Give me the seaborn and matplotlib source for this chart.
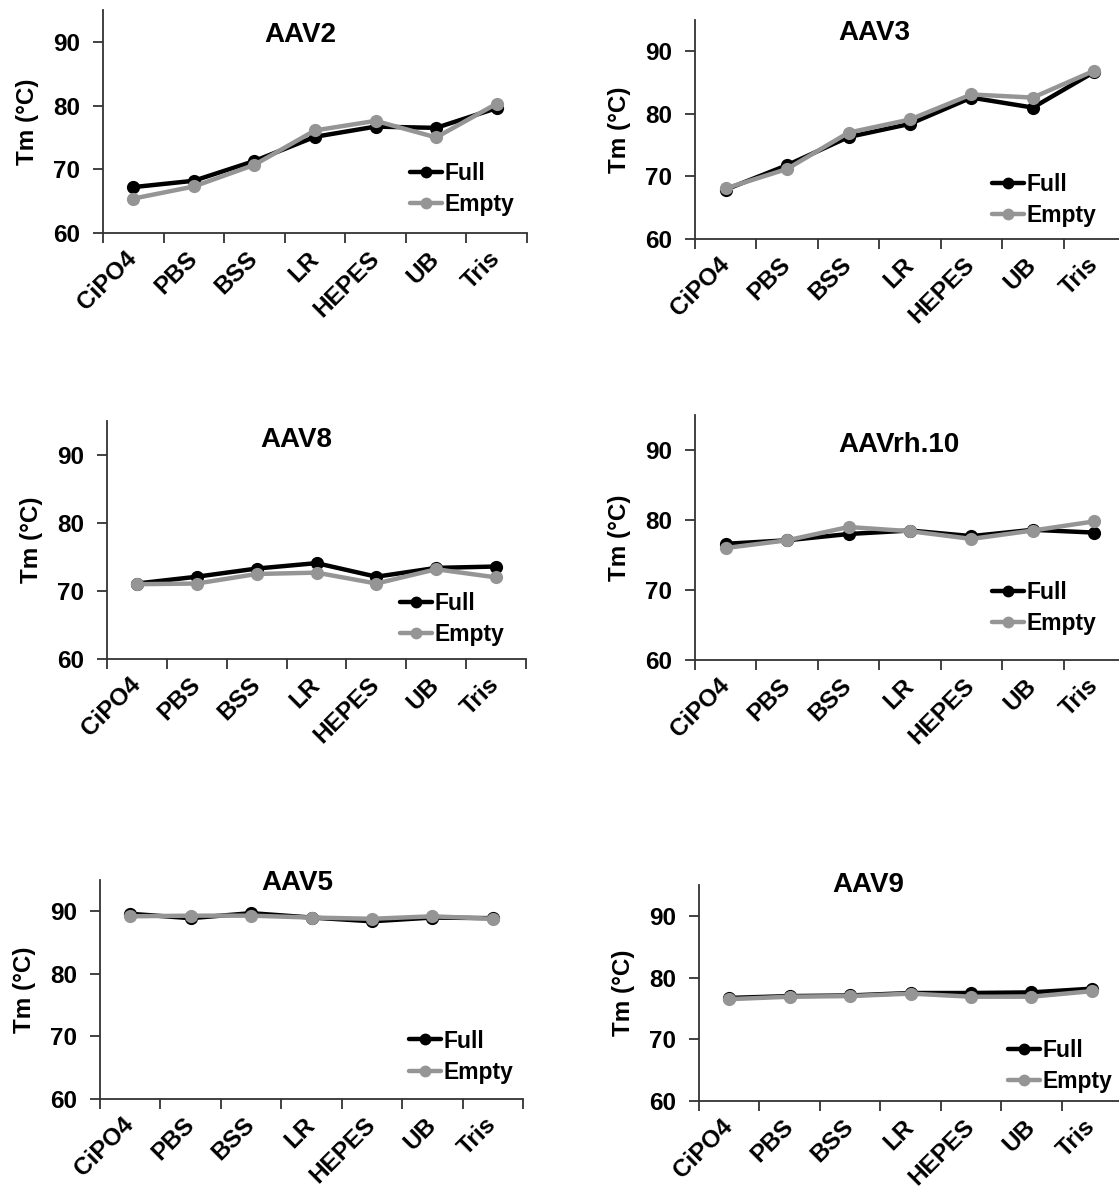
import matplotlib
matplotlib.use("Agg")
import matplotlib.pyplot as plt
import seaborn as sns
import pandas as pd
from matplotlib.ticker import FixedLocator

sns.set_style("ticks")
plt.rcParams['font.family'] = ['Liberation Sans', 'DejaVu Sans']
plt.rcParams['font.weight'] = 'bold'
plt.rcParams['text.color'] = 'black'
plt.rcParams['axes.labelcolor'] = 'black'
plt.rcParams['xtick.color'] = 'black'
plt.rcParams['ytick.color'] = 'black'

buffers = ["CiPO4", "PBS", "BSS", "LR", "HEPES", "UB", "Tris"]
series_names = ["Full", "Empty"]

aav2_full = [67.2, 68.2, 71.3, 75.1, 76.7, 76.5, 79.6]
aav2_empty = [65.4, 67.3, 70.7, 76.1, 77.6, 75.0, 80.3]
aav3_full = [67.9, 71.8, 76.3, 78.4, 82.6, 81.0, 86.7]
aav3_empty = [68.1, 71.2, 77.0, 79.1, 83.1, 82.6, 86.9]
aav8_full = [71.1, 72.1, 73.3, 74.1, 72.1, 73.4, 73.6]
aav8_empty = [71.0, 71.1, 72.5, 72.7, 71.1, 73.2, 72.0]
aavrh10_full = [76.6, 77.1, 78.0, 78.5, 77.7, 78.6, 78.2]
aavrh10_empty = [76.0, 77.1, 79.0, 78.4, 77.3, 78.5, 79.8]
aav5_full = [89.6, 88.9, 89.7, 89.0, 88.4, 89.0, 88.9]
aav5_empty = [89.2, 89.3, 89.3, 89.0, 88.8, 89.2, 88.8]
aav9_full = [76.7, 77.0, 77.1, 77.5, 77.5, 77.6, 78.2]
aav9_empty = [76.5, 76.9, 77.0, 77.4, 76.9, 76.9, 77.8]

y_ticks = [60, 70, 80, 90]

W, H = 1119, 1187
fig = plt.figure(figsize=(W / 100, H / 100), dpi=100)

# (title, full, empty, axes box px (x0, y0, x1, y1), title pos frac, legend pos frac)
panels = [
    ("AAV2", aav2_full, aav2_empty, (103, 10, 527, 233), (0.465, 0.89), (0.724, 0.197)),
    ("AAV3", aav3_full, aav3_empty, (695, 20, 1125, 239), (0.416, 0.94), (0.69, 0.178)),
    ("AAV8", aav8_full, aav8_empty, (107, 421, 526, 659), (0.453, 0.92), (0.70, 0.170)),
    ("AAVrh.10", aavrh10_full, aavrh10_empty, (695, 415, 1125, 660), (0.474, 0.877), (0.69, 0.214)),
    ("AAV5", aav5_full, aav5_empty, (100, 880, 523, 1099), (0.466, 0.985), (0.73, 0.194)),
    ("AAV9", aav9_full, aav9_empty, (699, 885, 1122, 1101), (0.40, 1.0), (0.73, 0.160)),
]

palette = {"Full": "#000000", "Empty": "#959595"}

for title, full, empty, box, tpos, lpos in panels:
    x0, y0, x1, y1 = box
    ax = fig.add_axes([x0 / W, (H - y1) / H, (x1 - x0) / W, (y1 - y0) / H])
    df = pd.DataFrame({
        "Buffer": buffers * 2,
        "Tm": list(full) + list(empty),
        "Sample": ["Full"] * len(buffers) + ["Empty"] * len(buffers),
    })
    sns.lineplot(data=df, x="Buffer", y="Tm", hue="Sample", hue_order=series_names,
                 palette=palette, marker="o", markersize=9.5, linewidth=3.2,
                 markeredgewidth=0, sort=False, ax=ax)
    ax.set_xlim(-0.5, 6.5)
    ax.set_ylim(60, 95)
    ax.set_yticks(y_ticks)
    ax.set_yticklabels([str(t) for t in y_ticks], fontsize=17.5, fontweight='bold')
    ax.set_xticks(range(len(buffers)))
    ax.set_xticklabels(buffers, fontsize=17.5, fontweight='bold', rotation=45,
                       ha='right', va='center', rotation_mode='anchor')
    ax.xaxis.set_minor_locator(FixedLocator([i - 0.5 for i in range(len(buffers) + 1)]))
    ax.tick_params(axis='x', which='major', length=0, pad=16)
    ax.tick_params(axis='x', which='minor', length=7, width=1.3, color='#333333')
    ax.tick_params(axis='y', length=7, width=1.3, color='#333333', pad=9.5)
    for s in ["top", "right"]:
        ax.spines[s].set_visible(False)
    for s in ["left", "bottom"]:
        ax.spines[s].set_color('#333333')
        ax.spines[s].set_linewidth(1.3)
    ax.set_xlabel("")
    ax.set_ylabel("Tm (°C)", fontsize=17.5, fontweight='bold', labelpad=10)
    ax.text(tpos[0], tpos[1], title, transform=ax.transAxes, ha='center', va='center',
            fontsize=20, fontweight='bold')
    handles, labels = ax.get_legend_handles_labels()
    for h in handles:
        h.set_markersize(8.5)
    ax.legend(handles, labels, loc='center left', bbox_to_anchor=lpos, frameon=False,
              prop={'size': 16.5, 'weight': 'bold'}, handlelength=1.4, handletextpad=0.1,
              labelspacing=0.35, borderaxespad=0, borderpad=0)

fig.savefig("out.png", dpi=100)
